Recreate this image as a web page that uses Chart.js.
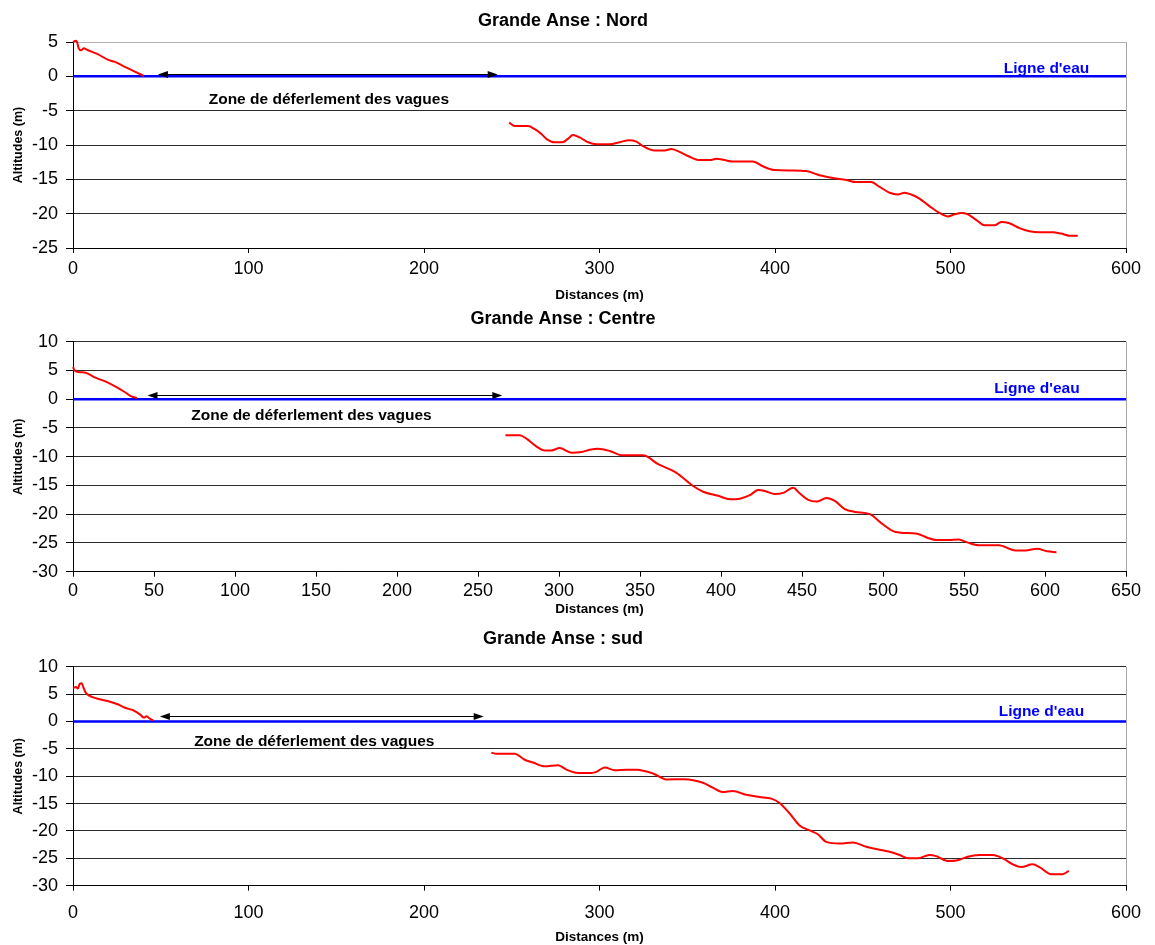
<!DOCTYPE html>
<html><head><meta charset="utf-8">
<script src="https://cdn.jsdelivr.net/npm/chart.js@4/dist/chart.umd.min.js"></script>
<style>
html,body{margin:0;padding:0;background:#fff;}
body{width:1155px;height:945px;position:relative;overflow:hidden;}
canvas{position:absolute;left:0;}
</style></head><body>
<canvas id="c1" style="top:0px;width:1155px;height:305px" width="1155" height="305"></canvas>
<canvas id="c2" style="top:300px;width:1155px;height:320px" width="1155" height="320"></canvas>
<canvas id="c3" style="top:620px;width:1155px;height:325px" width="1155" height="325"></canvas>
<script>
// ---------- DATA ----------
const titles = ["Grande Anse : Nord", "Grande Anse : Centre", "Grande Anse : sud"];
const xAxisTitle = "Distances (m)";
const yAxisTitle = "Altitudes (m)";
const zoneLabel = "Zone de déferlement des vagues";
const waterLabel = "Ligne d'eau";

// Nord
const nordBeachX = [0, 1.7, 2.3, 3.2, 4.5, 6.3, 7.8, 13.5, 20.1, 23.9, 28.6, 34.3, 40.4];
const nordBeachY = [5.0, 5.2, 5.0, 4.1, 3.8, 4.1, 3.9, 3.3, 2.4, 2.1, 1.5, 0.8, 0.05];
const nordOffX = [248.5, 251.7, 259.3, 263.1, 266.9, 269.7, 274.5, 278.9, 282, 284.9, 288.7, 293.5, 298.2, 305.8, 311.5, 316.8, 321, 324.8, 331.4, 337.1, 340.9, 344.7, 350.4, 357.1, 362.8, 366.6, 371.3, 376, 387.4, 393.1, 399.8, 410.2, 417.8, 425.4, 433, 440.6, 446.3, 454.8, 459.6, 465.3, 470, 473.8, 477.6, 482.3, 488, 493.7, 498.5, 502.3, 506.1, 509.9, 514.6, 519.4, 525.1, 528.9, 533.6, 539.3, 545, 550.7, 558.3, 563, 567.8, 572.5];
const nordOffY = [-6.75, -7.24, -7.24, -7.7, -8.4, -9.1, -9.6, -9.6, -9.1, -8.55, -8.9, -9.6, -9.9, -9.9, -9.6, -9.3, -9.5, -10.16, -10.8, -10.8, -10.6, -10.9, -11.6, -12.2, -12.2, -12.0, -12.2, -12.4, -12.4, -13.1, -13.65, -13.7, -13.8, -14.4, -14.8, -15.1, -15.4, -15.4, -16.1, -16.95, -17.2, -16.95, -17.2, -17.8, -18.9, -19.9, -20.4, -20.1, -19.9, -20.1, -20.9, -21.7, -21.7, -21.2, -21.4, -22.1, -22.55, -22.7, -22.7, -22.9, -23.2, -23.2];

// Centre
const centreBeachX = [0, 1.0, 4.1, 7.8, 13.4, 20.6, 26.8, 31.9, 36, 39.5];
const centreBeachY = [5.6, 5.0, 4.7, 4.6, 3.8, 3.0, 2.1, 1.25, 0.5, 0.2];
const centreOffX = [266.9, 275.7, 279.9, 286, 291.2, 295.3, 300.4, 307.6, 313.8, 318.9, 324, 331.4, 338.6, 351.9, 361.2, 372.5, 382.8, 389, 398.2, 405.5, 411.6, 417.8, 422.9, 427, 433.2, 438.4, 444.5, 448.7, 453.8, 459, 465.1, 470.3, 476.4, 482.6, 491.9, 500.1, 507.7, 521.1, 527.3, 533.4, 540.6, 546.8, 551.9, 559.1, 571.5, 581.8, 588, 595.2, 601.3, 607.1];
const centreOffY = [-6.28, -6.28, -6.86, -8.2, -8.9, -8.9, -8.5, -9.3, -9.2, -8.8, -8.6, -9.0, -9.76, -9.76, -11.3, -12.8, -15.1, -16.1, -16.8, -17.4, -17.3, -16.7, -15.8, -15.96, -16.5, -16.3, -15.4, -16.4, -17.5, -17.8, -17.2, -17.7, -19.1, -19.6, -20.0, -21.8, -23.1, -23.4, -24.1, -24.5, -24.5, -24.4, -24.9, -25.4, -25.4, -26.3, -26.3, -26.0, -26.45, -26.6];

// Sud
const sudBeachX = [0, 1.7, 2.7, 3.9, 5.0, 5.8, 7, 8.7, 13.5, 21.1, 25.8, 29.6, 34.3, 38.1, 40.4, 41.9, 43.8, 45.7];
const sudBeachY = [6.1, 6.3, 6.0, 6.9, 7.0, 6.3, 5.4, 4.8, 4.2, 3.6, 3.1, 2.5, 2.05, 1.3, 0.7, 0.95, 0.5, 0.2];
const sudOffX = [238.4, 241.3, 251.7, 257.4, 262.1, 268.8, 276.4, 281.2, 287.8, 295.4, 298.2, 303, 308.7, 315.3, 321, 330.5, 338.1, 348.5, 358.9, 364.6, 370, 376, 383.6, 391.2, 397.9, 402.6, 408.3, 414, 419.7, 424.4, 429.2, 436.8, 444.4, 452, 457.7, 465.3, 471, 475.7, 481.4, 488, 491.8, 498.4, 504.1, 509.8, 516.5, 524.1, 529.8, 535.5, 540.2, 546.8, 550.7, 557.3, 563.9, 567.4];
const sudOffY = [-5.7, -5.9, -5.9, -7.0, -7.5, -8.2, -8.0, -8.8, -9.4, -9.4, -9.2, -8.4, -8.9, -8.8, -8.8, -9.5, -10.6, -10.55, -11.2, -12.1, -12.9, -12.7, -13.4, -13.8, -14.1, -14.9, -16.8, -19.0, -19.9, -20.6, -22.0, -22.3, -22.1, -22.9, -23.3, -23.8, -24.4, -25.0, -25.0, -24.4, -24.6, -25.5, -25.35, -24.7, -24.4, -24.4, -25.0, -26.1, -26.6, -26.1, -26.6, -27.9, -27.9, -27.3];

// Axis ranges [min, max, step]
const nordXRange = [0, 600, 100], nordYRange = [-25, 5, 5];
const centreXRange = [0, 650, 50], centreYRange = [-30, 10, 5];
const sudXRange = [0, 600, 100], sudYRange = [-30, 10, 5];

// Water line (altitude 0) ends, breaking-zone arrow ends, label anchors (data units)
const nordWater = [0, 600], centreWater = [0, 650], sudWater = [0, 600];
const nordArrow = [48.4, 242, 0.3], centreArrow = [46, 265, 0.8], sudArrow = [49.5, 234, 0.95];
const nordZoneAt = [145.8, -3.4], centreZoneAt = [147.2, -2.95], sudZoneAt = [137.5, -3.75];
const nordWaterAt = [554.7, 1.05], centreWaterAt = [595, 1.8], sudWaterAt = [551.8, 1.7];

// ---------- RENDER ----------
const FONT = '"Liberation Sans", Arial, sans-serif';
Chart.defaults.color = '#000';
Chart.defaults.font.family = FONT;

const pts = (xs, ys) => xs.map((v, i) => ({x: v, y: ys[i]}));

const notesPlugin = {
  id: 'profileNotes',
  afterDatasetsDraw(chart, args, o) {
    const {ctx} = chart; const sx = chart.scales.x, sy = chart.scales.y;
    ctx.save();
    const x1 = sx.getPixelForValue(o.arrow[0]), x2 = sx.getPixelForValue(o.arrow[1]);
    const ay = Math.round(sy.getPixelForValue(o.arrow[2])) + 0.5;
    ctx.strokeStyle = '#000'; ctx.lineWidth = 1;
    ctx.beginPath(); ctx.moveTo(x1 + 6, ay); ctx.lineTo(x2 - 6, ay); ctx.stroke();
    ctx.fillStyle = '#000';
    ctx.beginPath(); ctx.moveTo(x1, ay); ctx.lineTo(x1 + 10, ay - 3.5); ctx.lineTo(x1 + 10, ay + 3.5); ctx.closePath(); ctx.fill();
    ctx.beginPath(); ctx.moveTo(x2, ay); ctx.lineTo(x2 - 10, ay - 3.5); ctx.lineTo(x2 - 10, ay + 3.5); ctx.closePath(); ctx.fill();
    ctx.font = 'bold 15.5px ' + FONT; ctx.textAlign = 'center'; ctx.textBaseline = 'middle';
    ctx.fillStyle = '#000';
    ctx.fillText(o.zoneText, sx.getPixelForValue(o.zoneAt[0]), sy.getPixelForValue(o.zoneAt[1]));
    ctx.fillStyle = '#0000ff';
    ctx.fillText(o.waterText, sx.getPixelForValue(o.waterAt[0]), sy.getPixelForValue(o.waterAt[1]));
    ctx.restore();
  }
};

function makeChart(id, p) {
  const H = document.getElementById(id).height;
  return new Chart(document.getElementById(id), {
    type: 'line',
    data: {
      datasets: [
        {data: pts(p.water, [0, 0]), borderColor: '#0000ff', borderWidth: 2.5, pointRadius: 0, order: 2},
        {data: pts(p.bx, p.by), borderColor: '#ff0000', borderWidth: 2, pointRadius: 0, cubicInterpolationMode: 'monotone', clip: false, order: 1},
        {data: pts(p.ox, p.oy), borderColor: '#ff0000', borderWidth: 2, pointRadius: 0, cubicInterpolationMode: 'monotone', order: 1}
      ]
    },
    options: {
      responsive: false, animation: false, events: [],
      layout: {padding: {left: 0, right: 29, top: 0, bottom: 0}},
      plugins: {
        legend: {display: false}, tooltip: {enabled: false},
        title: {display: true, text: p.title, font: {size: 18, weight: 'bold', family: FONT, lineHeight: 1.2},
                color: '#000', padding: {top: p.tPad[0], bottom: p.tPad[1]}},
        profileNotes: {arrow: p.arrow, zoneAt: p.zoneAt, waterAt: p.waterAt, zoneText: zoneLabel, waterText: waterLabel}
      },
      scales: {
        x: {
          type: 'linear', min: p.xr[0], max: p.xr[1],
          ticks: {stepSize: p.xr[2], font: {size: 18, family: FONT}, color: '#000', padding: p.xTickPad, maxRotation: 0, autoSkip: false},
          grid: {color: c => (c.tick && c.tick.value === p.xr[1]) ? '#a8a8a8' : 'rgba(0,0,0,0)', tickColor: '#000', tickLength: 5, drawOnChartArea: true},
          border: {display: true, color: '#000', width: 1},
          title: {display: true, text: xAxisTitle, font: {size: 13.5, weight: 'bold', family: FONT, lineHeight: 1.2}, color: '#000', padding: {top: 0, bottom: p.xTitleBottom}},
          afterFit: s => { s.height = H - p.bottom; }
        },
        y: {
          type: 'linear', min: p.yr[0], max: p.yr[1],
          ticks: {stepSize: p.yr[2], font: {size: 18, family: FONT}, color: '#000', padding: 8},
          grid: {color: c => (p.grayTop && c.tick && c.tick.value === p.yr[1]) ? '#b0b0b0' : '#2a2a2a', tickColor: '#000', tickLength: 7},
          border: {display: true, color: '#000', width: 1},
          title: {display: true, text: yAxisTitle, font: {size: 12.5, weight: 'bold', family: FONT, lineHeight: 1.2}, color: '#000', padding: {top: 11.5, bottom: 0}},
          afterFit: s => { s.width = 73; }
        }
      }
    },
    plugins: [notesPlugin]
  });
}

makeChart('c1', {title: titles[0], bx: nordBeachX, by: nordBeachY, ox: nordOffX, oy: nordOffY, water: nordWater,
  xr: nordXRange, yr: nordYRange, arrow: nordArrow, zoneAt: nordZoneAt, waterAt: nordWaterAt,
  tPad: [10.2, 10.2], bottom: 248, xTickPad: 5.5, xTitleBottom: 1.2, grayTop: true});
makeChart('c2', {title: titles[1], bx: centreBeachX, by: centreBeachY, ox: centreOffX, oy: centreOffY, water: centreWater,
  xr: centreXRange, yr: centreYRange, arrow: centreArrow, zoneAt: centreZoneAt, waterAt: centreWaterAt,
  tPad: [8.2, 11.9], bottom: 271.7, xTickPad: 3.5, xTitleBottom: 2.2, grayTop: false});
makeChart('c3', {title: titles[2], bx: sudBeachX, by: sudBeachY, ox: sudOffX, oy: sudOffY, water: sudWater,
  xr: sudXRange, yr: sudYRange, arrow: sudArrow, zoneAt: sudZoneAt, waterAt: sudWaterAt,
  tPad: [8.2, 16.9], bottom: 265.7, xTickPad: 11.5, xTitleBottom: 0, grayTop: false});
</script>
</body></html>
